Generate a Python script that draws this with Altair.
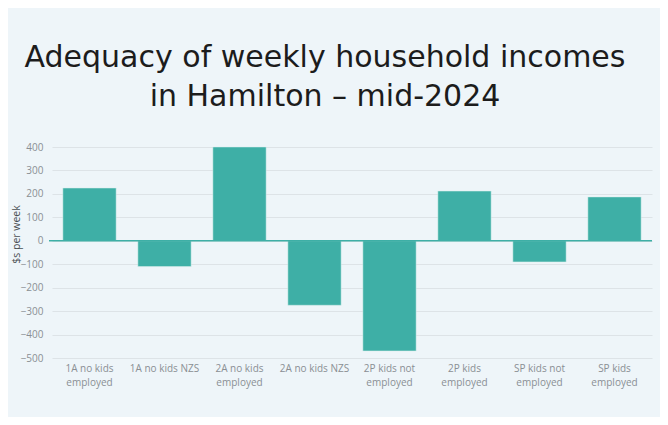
import altair as alt
import pandas as pd

categories = ["1A no kids|employed", "1A no kids NZS", "2A no kids|employed", "2A no kids NZS",
              "2P kids not|employed", "2P kids|employed", "SP kids not|employed", "SP kids|employed"]
values = [225, -110, 400, -275, -470, 212, -90, 187]
y_ticks = [400, 300, 200, 100, 0, -100, -200, -300, -400, -500]

df = pd.DataFrame({"household": categories, "value": values})

BG = "#EEF5F9"
TEAL = "#3EAFA6"
LABEL_FONT = "Open Sans"

bars = alt.Chart(df).mark_bar(color=TEAL, stroke="#d9eeec", strokeWidth=0.5).encode(
    x=alt.X("household:N", sort=categories,
            scale=alt.Scale(paddingInner=0.29, paddingOuter=0.145),
            axis=alt.Axis(title=None, labelExpr="split(datum.label, '|')", labelAngle=0,
                          ticks=False, domain=False, labelPadding=5, labelFontSize=10,
                          labelColor="#8a8f94", labelFont=LABEL_FONT, labelLineHeight=14,
                          labelBaseline="top")),
    y=alt.Y("value:Q", scale=alt.Scale(domain=[-500, 400], nice=False),
            axis=alt.Axis(title="$s per week", values=y_ticks, tickCount=10, ticks=False,
                          domain=False, labelOverlap=False,
                          labelPadding=9, labelFontSize=10, labelColor="#8a8f94",
                          labelFont=LABEL_FONT, gridColor="#dde3e7", gridWidth=1,
                          titleFont=LABEL_FONT, titleFontSize=10.5, titleColor="#4a4f53",
                          titleFontWeight="normal", titleX=-36, titleY=87,
                          titleAngle=270, titleAlign="center", titleBaseline="middle")),
)

zero = alt.Chart(pd.DataFrame({"z": [0]})).mark_rule(color=TEAL, strokeWidth=1.5).encode(
    y="z:Q", x=alt.value(-3), x2=alt.value(600)
)

chart = alt.layer(bars, zero).properties(
    width=600, height=211,
    title=alt.TitleParams(text=["Adequacy of weekly household incomes", "in Hamilton – mid-2024"],
                          font="DejaVu Sans", fontSize=30, fontWeight="normal", color="#1c1c1c",
                          anchor="middle", dx=-27, offset=30, lineHeight=39),
    autosize=alt.AutoSizeParams(type="none"),
    padding={"left": 44, "top": 139, "right": 8, "bottom": 59},
    background=BG,
).configure_view(stroke=None)

chart.save("out.html", embed_options={"renderer": "svg", "actions": False})
